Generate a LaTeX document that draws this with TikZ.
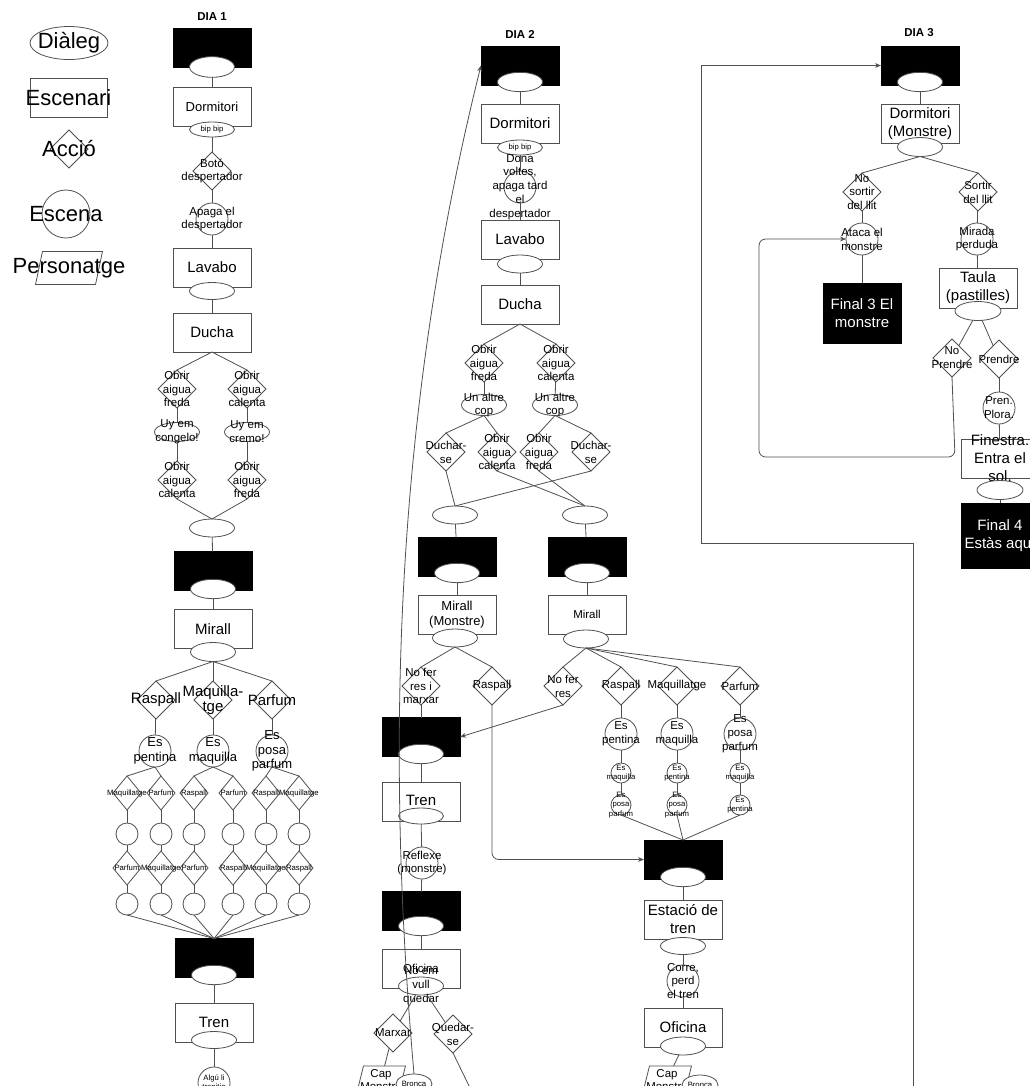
\documentclass[tikz,border=0pt]{standalone}
\usepackage{fontspec}
\setmainfont{Liberation Sans}
\usetikzlibrary{shapes.geometric,arrows.meta}
\definecolor{lc}{HTML}{505050}
\newcommand\fsA{\fontsize{16.5}{19}\selectfont}
\newcommand\fsB{\fontsize{11.25}{13.5}\selectfont}
\newcommand\fsC{\fontsize{9.75}{11}\selectfont}
\newcommand\fsD{\fontsize{8.6}{10.4}\selectfont}
\newcommand\fsE{\fontsize{5.8}{7}\selectfont}
\tikzset{
  shp/.style={draw=lc, line width=0.6pt, fill=white, inner sep=0pt, outer sep=0pt},
  scn/.style={shp, rectangle, minimum width=58.5pt, minimum height=29.25pt},
  blk/.style={rectangle, draw=black, fill=black, inner sep=0pt, outer sep=0pt, minimum width=58.5pt, minimum height=29.25pt},
  dlg/.style={shp, ellipse, minimum width=33.75pt, minimum height=13.5pt},
  hole/.style={shp, ellipse, minimum width=33.75pt, minimum height=14.5pt},
  act/.style={shp, diamond, minimum width=28.5pt, minimum height=28.5pt},
  sact/.style={shp, diamond, minimum width=21pt, minimum height=25.5pt},
  esc/.style={shp, circle, minimum size=24pt},
  sesc/.style={shp, circle, minimum size=16.5pt},
  tesc/.style={shp, circle, minimum size=15pt},
  per/.style={rectangle, inner sep=0pt, outer sep=0pt, minimum width=31.5pt, minimum height=21pt,
    append after command={\pgfextra{\draw[draw=lc, line width=0.6pt, fill=white]
      ([xshift=2.6pt]\tikzlastnode.north west) -- ([xshift=2.6pt]\tikzlastnode.north east) --
      ([xshift=-2.6pt]\tikzlastnode.south east) -- ([xshift=-2.6pt]\tikzlastnode.south west) -- cycle;}}},
  cn/.style={draw=lc, line width=0.6pt},
  arr/.style={cn, -{Stealth[length=4.5pt,width=3.6pt]}},
  ttl/.style={font=\fsD\bfseries, inner sep=0pt},
  LA/.style={label={[font=\fsA, align=center, inner sep=0pt]center:{#1}}},
  LB/.style={label={[font=\fsB, align=center, inner sep=0pt]center:{#1}}},
  LC/.style={label={[font=\fsC, align=center, inner sep=0pt]center:{#1}}},
  LD/.style={label={[font=\fsD, align=center, inner sep=0pt]center:{#1}}},
  LE/.style={label={[font=\fsE, align=center, inner sep=0pt]center:{#1}}},
  LW/.style={label={[font=\fsB, text=white, align=center, inner sep=0pt]center:{#1}}},
}
\begin{document}
\begin{tikzpicture}[x=0.75pt,y=-0.75pt]
\fill[white] (0,0) rectangle (1030,1086);
\useasboundingbox (0,0) rectangle (1030,1086);

% ---------- legend ----------
\node[dlg, minimum width=58.5pt, minimum height=24.75pt, LA=Diàleg] (lgD) at (69,43) {};
\node[scn, minimum width=57.75pt, LA=Escenari] (lgS) at (68.5,97.5) {};
\node[act, LA=Acció] (lgA) at (69,149) {};
\node[esc, minimum size=36pt, LA=Escena] (lgE) at (66,214) {};
\node[per, minimum width=45pt, minimum height=24.75pt, LA=Personatge] (lgP) at (69,268) {};

% ---------- day 1 ----------
\node[ttl] (t1) at (212,17) {DIA 1};
\node[blk] (d1b1) at (212,48) {};
\node[hole, minimum height=15.5pt] (d1b1e) at (212,67) {};
\node[scn, LC=Dormitori] (d1dorm) at (212,106.5) {};
\node[dlg, minimum height=11.25pt, LE={bip bip}] (d1bip) at (212,129.5) {};
\node[act, LD={Botó\\despertador}] (d1boto) at (212,171) {};
\node[esc, LD={Apaga el\\despertador}] (d1apaga) at (212,219) {};
\node[scn, LB=Lavabo] (d1lav) at (212,267.5) {};
\node[dlg, minimum height=12.75pt] (d1lave) at (212,291) {};
\node[scn, LB=Ducha] (d1duch) at (212,332.5) {};
\node[act, LD={Obrir\\aigua\\freda}] (d1a1) at (177,389) {};
\node[act, LD={Obrir\\aigua\\calenta}] (d1a2) at (247,389) {};
\node[dlg, minimum height=14.25pt, LD={Uy em\\congelo!}] (d1u1) at (177,432) {};
\node[dlg, minimum height=14.25pt, LD={Uy em\\cremo!}] (d1u2) at (247,432) {};
\node[act, LD={Obrir\\aigua\\calenta}] (d1a3) at (177,480) {};
\node[act, LD={Obrir\\aigua\\freda}] (d1a4) at (247,480) {};
\node[dlg] (d1j) at (212,528) {};
\node[blk] (d1b2) at (213,571) {};
\node[hole] (d1b2e) at (213,589) {};
\node[scn, LB=Mirall] (d1mir) at (213,629) {};
\node[dlg, minimum height=14.25pt] (d1mire) at (213,652) {};
\node[act, LB=Raspall] (d1r) at (156,700) {};
\node[act, label={[font=\fsB, align=center, inner sep=0pt]center:{Maquilla-\\[-2pt]tge}}] (d1m) at (213,700) {};
\node[act, LB=Parfum] (d1p) at (272,700) {};
\node[esc, LC={Es\\pentina}] (d1rc) at (155,751) {};
\node[esc, LC={Es\\maquilla}] (d1mc) at (213,751) {};
\node[esc, LC={Es\\posa\\parfum}] (d1pc) at (272,751) {};
\foreach \i/\xx/\la/\lb in {1/127/Maquillatge/Parfum, 2/161/Parfum/Maquillatge, 3/194/Raspall/Parfum, 4/233/Parfum/Raspall, 5/266/Raspall/Maquillatge, 6/299/Maquillatge/Raspall}{
  \node[sact, LE=\la] (d1x\i) at (\xx,793) {};
  \node[sesc] (d1y\i) at (\xx,834) {};
  \node[sact, LE=\lb] (d1z\i) at (\xx,868) {};
  \node[sesc] (d1w\i) at (\xx,904) {};
}
\node[blk] (d1b3) at (214,958) {};
\node[hole] (d1b3e) at (214,975) {};
\node[scn, LB=Tren] (d1tren) at (214,1022.5) {};
\node[dlg, minimum height=12.75pt] (d1trene) at (214,1040) {};
\node[esc, LE={Algú li\\trepitja}] (d1algu) at (214,1083) {};

% ---------- day 2 ----------
\node[ttl] (t2) at (520,34) {DIA 2};
\node[blk] (d2b1) at (520,65.5) {};
\node[hole] (d2b1e) at (520,82) {};
\node[scn, LB=Dormitori] (d2dorm) at (520,123.5) {};
\node[dlg, minimum height=11.25pt, LE={bip bip}] (d2bip) at (520,147.5) {};
\node[esc, label={[font=\fsD, align=center, inner sep=0pt]center:{Dona\\voltes,\\apaga tard\\el\\despertador}}] (d2dona) at (520,187) {};
\node[scn, LB=Lavabo] (d2lav) at (520,239.5) {};
\node[dlg] (d2lave) at (520,264) {};
\node[scn, LB=Ducha] (d2duch) at (520,304.5) {};
\node[act, LD={Obrir\\aigua\\freda}] (d2a1) at (484,363) {};
\node[act, LD={Obrir\\aigua\\calenta}] (d2a2) at (556,363) {};
\node[dlg, minimum height=15.75pt, LD={Un altre\\cop}] (d2u1) at (484,405) {};
\node[dlg, minimum height=15.75pt, LD={Un altre\\cop}] (d2u2) at (555,405) {};
\node[act, LD={Duchar-\\se}] (d2x1) at (446,452) {};
\node[act, LD={Obrir\\aigua\\calenta}] (d2x2) at (497,452) {};
\node[act, LD={Obrir\\aigua\\freda}] (d2x3) at (539,452) {};
\node[act, LD={Duchar-\\se}] (d2x4) at (591,452) {};
\node[dlg] (d2j1) at (455,515) {};
\node[dlg] (d2j2) at (585,515) {};
\node[blk] (d2b2) at (457,557) {};
\node[hole] (d2b2e) at (457,573) {};
\node[blk] (d2b3) at (587,557) {};
\node[hole] (d2b3e) at (587,573) {};
\node[scn, LC={Mirall\\(Monstre)}] (d2mm) at (457,614.5) {};
\node[dlg] (d2mme) at (455,638) {};
\node[scn, LD=Mirall] (d2mr) at (587,614.5) {};
\node[dlg] (d2mre) at (586,639) {};
% left branch
\node[act, LD={No fer\\res i\\marxar}] (d2nofm) at (421,686) {};
\node[act, LD=Raspall] (d2rasm) at (492,686) {};
\node[blk] (d2b4) at (421,737) {};
\node[hole] (d2b4e) at (421,754) {};
\node[scn, label={[font=\fsB, inner sep=0pt]center:{\raisebox{3pt}{Tren}}}] (d2tren) at (421,802) {};
\node[dlg, minimum height=12pt] (d2trene) at (421,816) {};
\node[esc, LD={Reflexe\\(monstre)}] (d2refl) at (422,863) {};
\node[blk] (d2b5) at (421,911) {};
\node[hole] (d2b5e) at (421,926) {};
\node[scn, label={[font=\fsD, inner sep=0pt]center:{\raisebox{1pt}{Oficina}}}] (d2ofi) at (421,969) {};
\node[dlg, LD={No em\\vull\\quedar}] (d2novull) at (421,986) {};
\node[act, LD=Marxar] (d2marx) at (393,1033) {};
\node[act, LD={Quedar-\\se}] (d2qued) at (453,1034) {};
\node[per, LD={Cap\\Monstre}] (d2cap) at (381,1080) {};
\node[dlg, minimum width=27pt, minimum height=15pt, LE=Bronca] (d2bron) at (414,1084) {};
\coordinate (d2qout) at (472,1092);
% right branch
\node[act, LD={No fer\\res}] (d2nof) at (563,686) {};
\node[act, LD=Raspall] (d2ras) at (621,686) {};
\node[act, LD=Maquillatge] (d2maq) at (677,686) {};
\node[act, LD=Parfum] (d2par) at (740,686) {};
\node[esc, LD={Es\\pentina}] (d2rc) at (621,734) {};
\node[esc, LD={Es\\maquilla}] (d2mc) at (677,734) {};
\node[esc, LD={Es\\posa\\parfum}] (d2pc) at (740,734) {};
\node[tesc, LE={Es\\maquilla}] (d2r1) at (621,773) {};
\node[tesc, LE={Es\\pentina}] (d2m1) at (677,773) {};
\node[tesc, LE={Es\\maquilla}] (d2p1) at (740,773) {};
\node[tesc, LE={Es\\posa\\parfum}] (d2r2) at (621,805) {};
\node[tesc, LE={Es\\posa\\parfum}] (d2m2) at (677,805) {};
\node[tesc, LE={Es\\pentina}] (d2p2) at (740,805) {};
\node[blk] (d2b6) at (683,859.5) {};
\node[hole] (d2b6e) at (683,877) {};
\node[scn, LB={Estació de\\tren}] (d2est) at (683,919.5) {};
\node[dlg, minimum height=12.75pt] (d2este) at (683,946) {};
\node[esc, LD={Corre,\\perd\\el tren}] (d2corre) at (683,981) {};
\node[scn, label={[font=\fsB, inner sep=0pt]center:{\raisebox{1pt}{Oficina}}}] (d2ofi2) at (683,1027.5) {};
\node[dlg] (d2ofi2e) at (683,1046) {};
\node[per, LD={Cap\\Monstre}] (d2cap2) at (667,1080) {};
\node[dlg, minimum width=27pt, minimum height=15pt, LE=Bronca] (d2bron2) at (700,1085) {};

% ---------- day 3 ----------
\node[ttl] (t3) at (919,33) {DIA 3};
\node[blk] (d3b1) at (920,65.5) {};
\node[hole] (d3b1e) at (920,82) {};
\node[scn, LB={Dormitori\\(Monstre)}] (d3dorm) at (920,123.5) {};
\node[dlg, minimum height=14.25pt] (d3dorme) at (920,147) {};
\node[act, LD={No\\sortir\\del llit}] (d3nos) at (862,192) {};
\node[act, LD={Sortir\\del llit}] (d3sor) at (978,192) {};
\node[esc, LD={Ataca el\\monstre}] (d3ataca) at (862,239) {};
\node[esc, LD={Mirada\\perduda}] (d3mirada) at (977,239) {};
\node[blk, minimum height=45pt, LW={Final 3 El\\monstre}] (d3fin3) at (862,313) {};
\node[scn, minimum height=30pt, LB={Taula\\(pastilles)}] (d3taula) at (978,288) {};
\node[dlg, minimum width=34.5pt, minimum height=14.25pt] (d3taulae) at (978,311) {};
\node[act, LD={No\\Prendre}] (d3nop) at (952,358) {};
\node[act, LD=Prendre] (d3pre) at (999,359) {};
\node[esc, LD={Pren.\\Plora.}] (d3pren) at (999,408) {};
\node[scn, LB={Finestra.\\Entra el\\sol.}] (d3fin) at (1000,458.5) {};
\node[dlg, minimum width=34.5pt, minimum height=14.25pt] (d3fine) at (1000,490) {};
\node[blk, minimum height=48.75pt, LW={Final 4\\Estàs aquí}] (d3fin4) at (1000,535.5) {};
\coordinate (d3in) at (913,1092);

% ---------- connectors: day 1 ----------
\draw[cn] (d1b1e) -- (d1dorm);
\draw[cn] (d1bip) -- (d1boto);
\draw[cn] (d1boto) -- (d1apaga);
\draw[cn] (d1apaga) -- (d1lav);
\draw[cn] (d1lave) -- (d1duch);
\draw[cn] (d1duch.south) -- (d1a1.north);
\draw[cn] (d1duch.south) -- (d1a2.north);
\draw[cn] (d1a1) -- (d1u1);
\draw[cn] (d1a2) -- (d1u2);
\draw[cn] (d1u1) -- (d1a3);
\draw[cn] (d1u2) -- (d1a4);
\draw[cn] (d1a3.south) -- (d1j.north);
\draw[cn] (d1a4.south) -- (d1j.north);
\draw[cn] (d1j) -- (d1b2);
\draw[cn] (d1b2e) -- (d1mir);
\draw[cn] (d1mire.south) -- (d1r.north);
\draw[cn] (d1mire.south) -- (d1m.north);
\draw[cn] (d1mire.south) -- (d1p.north);
\draw[cn] (d1r) -- (d1rc);
\draw[cn] (d1m) -- (d1mc);
\draw[cn] (d1p) -- (d1pc);
\draw[cn] (d1rc.south) -- (d1x1.north);
\draw[cn] (d1rc.south) -- (d1x2.north);
\draw[cn] (d1mc.south) -- (d1x3.north);
\draw[cn] (d1mc.south) -- (d1x4.north);
\draw[cn] (d1pc.south) -- (d1x5.north);
\draw[cn] (d1pc.south) -- (d1x6.north);
\foreach \i in {1,...,6}{
  \draw[cn] (d1x\i) -- (d1y\i);
  \draw[cn] (d1y\i) -- (d1z\i);
  \draw[cn] (d1z\i) -- (d1w\i);
  \draw[cn] (d1w\i.south) -- (d1b3.north);
}
\draw[cn] (d1b3e) -- (d1tren);
\draw[cn] (d1trene) -- (d1algu);

% ---------- connectors: day 2 ----------
\draw[cn] (d2b1e) -- (d2dorm);
\draw[cn] (d2bip) -- (d2dona);
\draw[cn] (d2dona) -- (d2lav);
\draw[cn] (d2lave) -- (d2duch);
\draw[cn] (d2duch.south) -- (d2a1.north);
\draw[cn] (d2duch.south) -- (d2a2.north);
\draw[cn] (d2a1) -- (d2u1);
\draw[cn] (d2a2) -- (d2u2);
\draw[cn] (d2u1.south) -- (d2x1.north);
\draw[cn] (d2u1.south) -- (d2x2.north);
\draw[cn] (d2u2.south) -- (d2x3.north);
\draw[cn] (d2u2.south) -- (d2x4.north);
\draw[cn] (d2x1.south) -- (d2j1.north);
\draw[cn] (d2x4.south) -- (d2j1.north);
\draw[cn] (d2x2.south) -- (d2j2.north);
\draw[cn] (d2x3.south) -- (d2j2.north);
\draw[cn] (d2j1) -- (d2b2);
\draw[cn] (d2j2) -- (d2b3);
\draw[cn] (d2b2e) -- (d2mm);
\draw[cn] (d2b3e) -- (d2mr);
\draw[cn] (d2mme.south) -- (d2nofm.north);
\draw[cn] (d2mme.south) -- (d2rasm.north);
\draw[cn] (d2nofm) -- (d2b4);
\draw[arr, rounded corners=5pt] (d2rasm.south) |- (d2b6.west);
\draw[cn] (d2b4e) -- (d2tren);
\draw[cn] (d2trene) -- (d2refl);
\draw[cn] (d2refl) -- (d2b5);
\draw[cn] (d2b5e) -- (d2ofi);
\draw[cn] (d2novull) -- (d2marx);
\draw[cn] (d2novull) -- (d2qued);
\draw[cn] (d2marx) -- (d2cap);
\draw[cn] (d2qued.south) -- (d2qout);
\draw[arr] (d2bron.north) .. controls (390,800) and (385,450) .. (d2b1.west);
\draw[cn] (d2mre.south) -- (d2nof.north);
\draw[cn] (d2mre.south) -- (d2ras.north);
\draw[cn] (d2mre.south) -- (d2maq.north);
\draw[cn] (d2mre.south) -- (d2par.north);
\draw[arr] (d2nof.south) -- (d2b4.east);
\draw[cn] (d2ras) -- (d2rc);
\draw[cn] (d2maq) -- (d2mc);
\draw[cn] (d2par) -- (d2pc);
\draw[cn] (d2rc) -- (d2r1);
\draw[cn] (d2mc) -- (d2m1);
\draw[cn] (d2pc) -- (d2p1);
\draw[cn] (d2r1) -- (d2r2);
\draw[cn] (d2m1) -- (d2m2);
\draw[cn] (d2p1) -- (d2p2);
\draw[cn] (d2r2.south) -- (d2b6.north);
\draw[cn] (d2m2.south) -- (d2b6.north);
\draw[cn] (d2p2.south) -- (d2b6.north);
\draw[cn] (d2b6e) -- (d2est);
\draw[cn] (d2este) -- (d2corre);
\draw[cn] (d2corre) -- (d2ofi2);
\draw[cn] (d2ofi2e) -- (d2cap2);

% ---------- connectors: day 3 ----------
\draw[cn] (d3b1e) -- (d3dorm);
\draw[cn] (d3dorme.south) -- (d3nos.north);
\draw[cn] (d3dorme.south) -- (d3sor.north);
\draw[cn] (d3nos) -- (d3ataca);
\draw[cn] (d3sor) -- (d3mirada);
\draw[cn] (d3ataca) -- (d3fin3);
\draw[cn] (d3mirada) -- (d3taula);
\draw[cn] (d3taulae) -- (d3nop);
\draw[cn] (d3taulae) -- (d3pre);
\draw[cn] (d3pre) -- (d3pren);
\draw[cn] (d3pren) -- (d3fin);
\draw[cn] (d3fine) -- (d3fin4);
\draw[arr, rounded corners=5pt] (d3nop.south) -- (955,457) -- (759,457) -- (759,239) -- (d3ataca.west);
\draw[arr] (d3in) -- (913,543) -- (701,543) -- (701,65.5) -- (d3b1.west);
\end{tikzpicture}
\end{document}
